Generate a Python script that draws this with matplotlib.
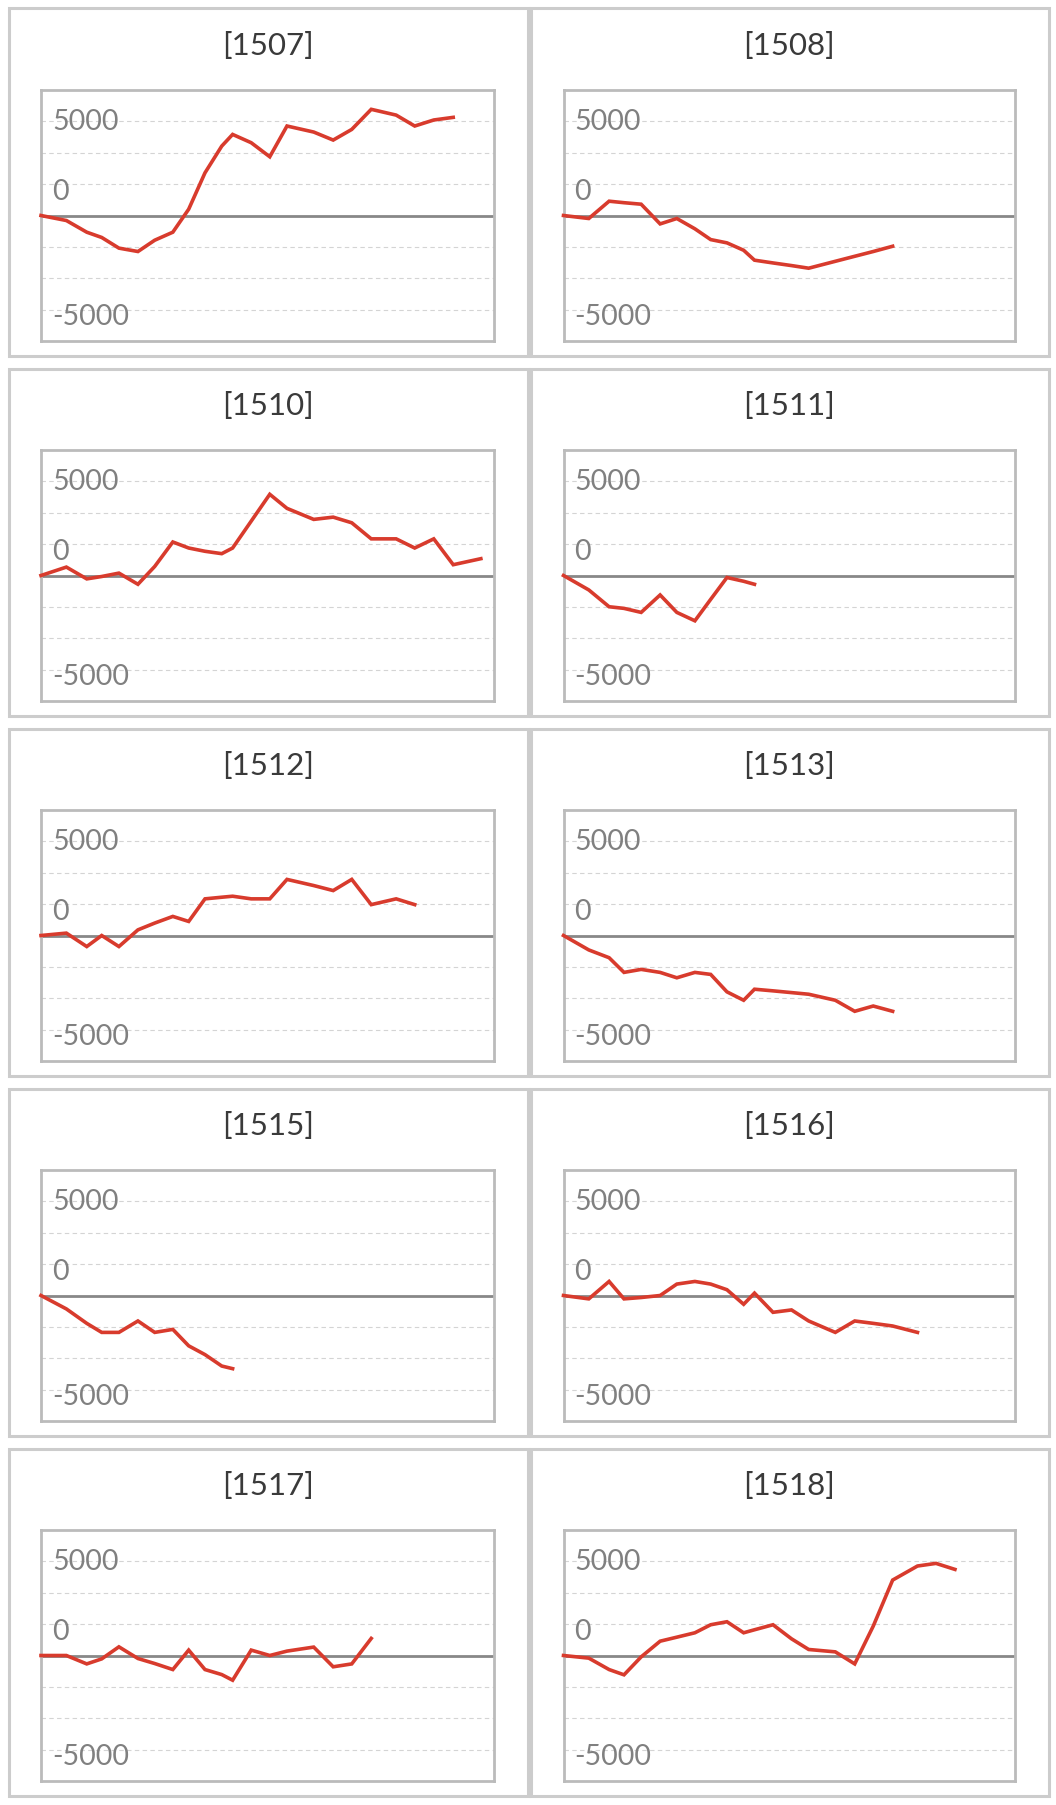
"""Cumulative P&L small multiples, one panel per stock code."""
import numpy as np
import matplotlib
matplotlib.use("Agg")
import matplotlib.pyplot as plt
from matplotlib.patches import Rectangle

# ---- data (x = position along the common date axis, 0..100) ----
codes = ["1507", "1508", "1510", "1511", "1512",
         "1513", "1515", "1516", "1517", "1518"]

date_x = [0, 5.6, 10.1, 13.4, 17.2, 21.4, 25.1, 29.1, 32.6, 36.2, 39.9, 42.3,
          46.4, 50.5, 54.3, 60.2, 64.5, 68.6, 72.9, 78.4, 82.5, 86.7, 91.0, 97.1]

pnl_1507 = [0, -400, -1330, -1750, -2600, -2870, -1970, -1330, 500, 3400, 5530,
            6460, 5800, 4680, 7130, 6650, 6010, 6860, 8460, 8000, 7130, 7610, 7820]
pnl_1508 = [0, -240, 1140, 1020, 900, -670, -240, -1060, -1920, -2180, -2770,
            -3560, -3780, -3990, -4200, -3650, -3250, -2870, -2450]
pnl_1510 = [0, 670, -270, -80, 190, -700, 720, 2670, 2190, 1930, 1740, 2190,
            4330, 6470, 5350, 4470, 4650, 4200, 2920, 2920, 2190, 2920, 860, 1340]
pnl_1511 = [0, -1150, -2490, -2620, -2940, -1550, -2940, -3610, -1900, -160,
            -460, -700]
pnl_1512 = [0, 190, -880, 0, -880, 450, 990, 1520, 1120, 2920, 3050, 3130,
            2920, 2920, 4470, 3980, 3580, 4470, 2460, 2920, 2460]
pnl_1513 = [0, -1150, -1770, -2940, -2700, -2940, -3370, -2940, -3100, -4490,
            -5160, -4280, -4410, -4550, -4680, -5160, -6040, -5620, -6040]
pnl_1515 = [0, -1070, -2220, -2940, -2940, -2030, -2940, -2700, -4010, -4710,
            -5620, -5830]
pnl_1516 = [0, -270, 1120, -270, -160, 0, 910, 1120, 910, 460, -700, 190,
            -1340, -1150, -2030, -2940, -2030, -2220, -2430, -2940]
pnl_1517 = [0, 0, -670, -270, 690, -240, -640, -1120, 430, -1120, -1520,
            -1970, 430, 0, 350, 670, -900, -670, 1360]
pnl_1518 = [0, -210, -1120, -1540, -110, 1140, 1460, 1810, 2450, 2690, 1810,
            2050, 2450, 1330, 480, 290, -670, 2340, 6010, 7130, 7340, 6860]

series = [pnl_1507, pnl_1508, pnl_1510, pnl_1511, pnl_1512,
          pnl_1513, pnl_1515, pnl_1516, pnl_1517, pnl_1518]

tick_text = ["5000", "0", "-5000"]
tick_pos = [6810, 1240, -8730]   # where the labels sit on the value axis

# ---- layout (pixels) ----
W, H = 1056, 1805
fig = plt.figure(figsize=(W / 100, H / 100), dpi=100)
fig.patch.set_facecolor("white")

FONT = ["Lato", "DejaVu Sans"]
RED = "#d83b2d"
ROW = 360
panel_x = [(8.5, 527.5), (530.5, 1048.5)]
axes_x = [(41, 494), (563.5, 1015)]


def fx(px):
    return px / W


def fy(py):
    return 1 - py / H


for k, (code, vals) in enumerate(zip(codes, series)):
    row, col = divmod(k, 2)
    off = ROW * row

    # panel frame
    x0, x1 = panel_x[col]
    y0, y1 = 8.5 + off, 356.3 + off
    fig.add_artist(Rectangle((fx(x0), fy(y1)), fx(x1 - x0), (y1 - y0) / H,
                             transform=fig.transFigure, fill=False,
                             edgecolor="#cccccc", linewidth=2.2))
    fig.text(fx((x0 + x1) / 2), fy(46 + off), f"[{code}]", ha="center",
             va="center", fontsize=22.5, color="#3a3a3a", family=FONT)

    # plot area
    a0, a1 = axes_x[col]
    ax = fig.add_axes([fx(a0), fy(341 + off), fx(a1 - a0), 251 / H])
    ax.set_xlim(0, 100)
    ax.set_ylim(-10000, 10000)
    ax.set_xticks([])
    ax.set_yticks(np.arange(-7500, 7501, 2500))
    ax.tick_params(axis="y", length=0, labelleft=False)
    ax.grid(axis="y", color="#d4d4d4", linestyle=(0, (4, 3)), linewidth=0.8)
    for s in ax.spines.values():
        s.set_color("#bbbbbb")
        s.set_linewidth(2)
    ax.axhline(0, color="#888888", linewidth=2, zorder=2)

    for t, p in zip(tick_text, tick_pos):
        ax.text(11 / (a1 - a0), p, t, transform=ax.get_yaxis_transform(),
                ha="left", va="baseline", fontsize=20.5, color="#808080",
                family=FONT, zorder=3)

    ax.plot(date_x[:len(vals)], vals, color=RED, linewidth=2.6,
            solid_joinstyle="miter", zorder=4, clip_on=False)

fig.savefig("out.png", dpi=100, facecolor="white")
plt.close(fig)
